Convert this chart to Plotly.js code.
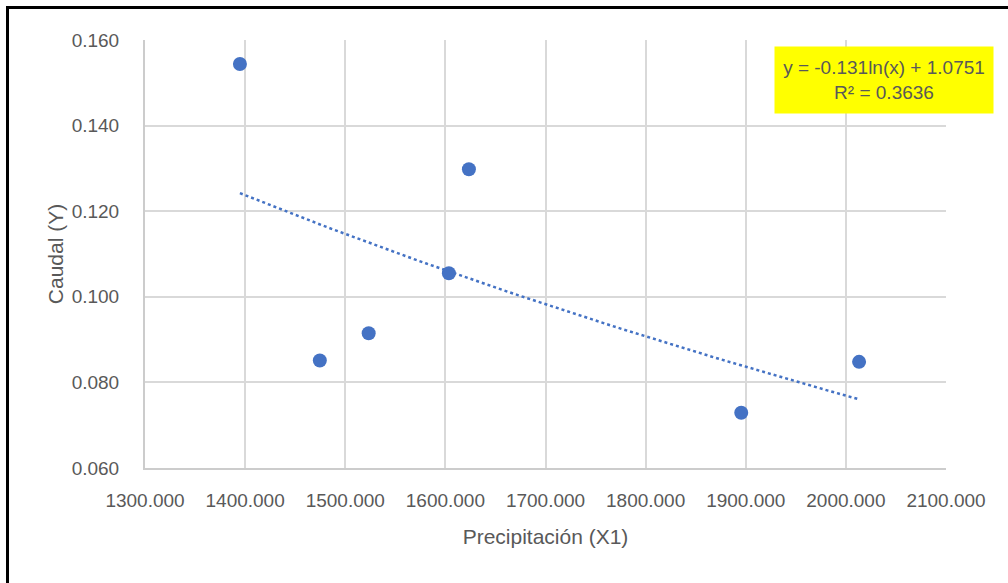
<!DOCTYPE html>
<html>
<head>
<meta charset="utf-8">
<script src="https://cdn.plot.ly/plotly-3.0.1.min.js"></script>
<style>
  html, body { margin: 0; padding: 0; background: #fff; }
  #wrap { position: relative; width: 1008px; height: 583px; overflow: hidden; }
  #chart { width: 1008px; height: 583px; }
  #frame { position: absolute; left: 6px; top: 6px; right: -10px; bottom: -10px;
           border-top: 3px solid #000; border-left: 3px solid #000; pointer-events: none; }
</style>
</head>
<body>
<div id="wrap">
  <div id="chart"></div>
  <div id="frame"></div>
</div>
<script>
// Data
const precipitacion = [1394.8, 1474.6, 1523.4, 1603.5, 1623.5, 1895.5, 2013.2];
const caudal        = [0.1544, 0.0851, 0.0915, 0.1055, 0.1298, 0.0729, 0.0848];
const xTicks = [1300, 1400, 1500, 1600, 1700, 1800, 1900, 2000, 2100];
const yTicks = [0.060, 0.080, 0.100, 0.120, 0.140, 0.160];
const equationText = "y = -0.131ln(x) + 1.0751";
const r2Text = "R² = 0.3636";

// Logarithmic least-squares trendline (as the spreadsheet computes it)
const lx = precipitacion.map(Math.log);
const n = lx.length;
const mx = lx.reduce((a, b) => a + b, 0) / n;
const my = caudal.reduce((a, b) => a + b, 0) / n;
let sxy = 0, sxx = 0;
for (let i = 0; i < n; i++) { sxy += (lx[i] - mx) * (caudal[i] - my); sxx += (lx[i] - mx) ** 2; }
const slope = sxy / sxx, intercept = my - slope * mx;
const xmin = Math.min(...precipitacion), xmax = Math.max(...precipitacion);
const trendX = [], trendY = [];
for (let k = 0; k <= 60; k++) {
  const xv = xmin + (xmax - xmin) * k / 60;
  trendX.push(xv); trendY.push(slope * Math.log(xv) + intercept);
}

const FONT = "Liberation Sans, Arial, sans-serif";
const GRAY = "#595959";

const traces = [
  { x: trendX, y: trendY, type: "scatter", mode: "lines",
    line: { color: "#4472C4", width: 2.5, dash: "dot" }, hoverinfo: "skip" },
  { x: precipitacion, y: caudal, type: "scatter", mode: "markers",
    marker: { color: "#4472C4", size: 14 } }
];

const layout = {
  width: 1008, height: 583,
  margin: { l: 145, r: 62, t: 40, b: 115 },
  paper_bgcolor: "#fff", plot_bgcolor: "#fff",
  showlegend: false,
  font: { family: FONT, color: GRAY, size: 19 },
  xaxis: {
    range: [1300, 2100], tickvals: xTicks,
    ticktext: xTicks.map(v => v.toFixed(3)),
    showgrid: true, gridcolor: "#d9d9d9", gridwidth: 2,
    showline: true, linecolor: "#cccccc", linewidth: 2,
    zeroline: false, ticks: "", ticklabelstandoff: 14,
    tickfont: { family: FONT, size: 19, color: GRAY },
    title: { text: "Precipitación (X1)", font: { family: FONT, size: 21, color: GRAY }, standoff: 20 },
    automargin: false
  },
  yaxis: {
    range: [0.060, 0.160], tickvals: yTicks,
    ticktext: yTicks.map(v => v.toFixed(3)),
    showgrid: true, gridcolor: "#d9d9d9", gridwidth: 2,
    showline: true, linecolor: "#cccccc", linewidth: 2,
    zeroline: false, ticks: "", ticklabelstandoff: 20,
    tickfont: { family: FONT, size: 19, color: GRAY },
    title: { text: "Caudal (Y)", font: { family: FONT, size: 21, color: GRAY }, standoff: 2 },
    automargin: false
  },
  annotations: [{
    xref: "paper", yref: "paper", x: 0.9226, y: 0.9065,
    xanchor: "center", yanchor: "middle",
    text: equationText + "<br>" + r2Text, showarrow: false, align: "center",
    bgcolor: "#FFFF00", width: 218, height: 66, borderpad: 0,
    font: { family: FONT, size: 19, color: GRAY }
  }]
};

Plotly.newPlot("chart", traces, layout, { displayModeBar: false, staticPlot: true });
</script>
</body>
</html>
